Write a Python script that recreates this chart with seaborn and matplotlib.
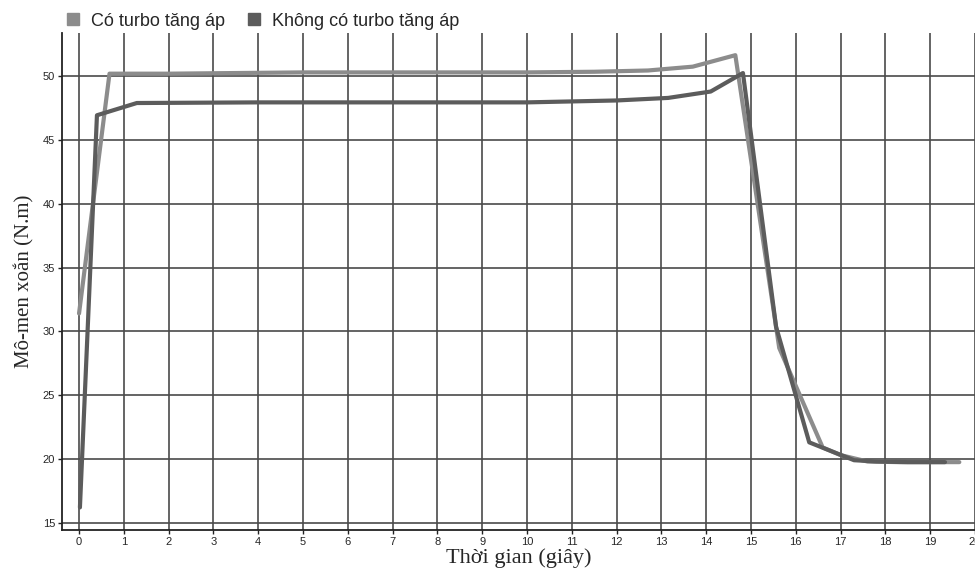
import numpy as np
import matplotlib.pyplot as plt
import seaborn as sns
import pandas as pd
from matplotlib.lines import Line2D

# data
t_turbo = [0.0, 0.68, 2.0, 5.0, 10.0, 11.5, 12.7, 13.7, 14.65, 15.63, 16.6, 17.0, 17.6, 18.3, 19.0, 19.65]
m_turbo = [31.4, 50.2, 50.2, 50.3, 50.3, 50.35, 50.45, 50.75, 51.65, 28.7, 20.9, 20.3, 19.8, 19.75, 19.75, 19.75]

t_no = [0.02, 0.4, 1.29, 4.0, 10.0, 12.0, 13.15, 14.1, 14.82, 15.56, 16.3, 16.8, 17.3, 17.8, 18.5, 19.33]
m_no = [16.2, 46.94, 47.9, 47.95, 47.95, 48.1, 48.3, 48.8, 50.25, 30.35, 21.3, 20.6, 19.9, 19.8, 19.75, 19.75]

label_turbo = 'Có turbo tăng áp'
label_no = 'Không có turbo tăng áp'

df = pd.concat([
    pd.DataFrame({'t': t_turbo, 'm': m_turbo, 'loai': label_turbo}),
    pd.DataFrame({'t': t_no, 'm': m_no, 'loai': label_no}),
], ignore_index=True)

sns.set_style('white')
plt.rcParams['font.family'] = ['Liberation Sans', 'DejaVu Sans']

colors = {label_turbo: '#8c8c8c', label_no: '#5c5c5c'}

fig = plt.figure(figsize=(9.75, 5.71), dpi=100)
ax = fig.add_axes([0.0636, 0.0718, 0.9364, 0.870])

sns.lineplot(data=df, x='t', y='m', hue='loai', palette=colors, sort=False,
             estimator=None, linewidth=3, ax=ax, legend=False, zorder=3)

ax.set_xlim(-0.38, 19.85)
ax.set_ylim(14.43, 53.37)
ax.set_xticks(range(0, 21))
ax.set_yticks(range(15, 55, 5))
ax.grid(True, color='#4a4a4a', linewidth=1.2, zorder=0)
ax.set_axisbelow(True)
for s in ['top', 'right']:
    ax.spines[s].set_visible(False)
for s in ['left', 'bottom']:
    ax.spines[s].set_color('#222222')
    ax.spines[s].set_linewidth(1.3)
ax.tick_params(axis='both', labelsize=8, length=3, width=1, color='#222222',
               direction='out', left=True, bottom=True, pad=2)

ax.set_xlabel('Thời gian (giây)', family='Liberation Serif', fontsize=16, labelpad=1)
ax.set_ylabel('Mô-men xoắn (N.m)', family='Liberation Serif', fontsize=15, labelpad=6)

handles = [Line2D([], [], marker='s', linestyle='none', markersize=9,
                  markerfacecolor=colors[k], markeredgecolor=colors[k], label=k)
           for k in [label_turbo, label_no]]
fig.legend(handles=handles, loc='upper left', bbox_to_anchor=(0.045, 0.997), ncol=2,
           frameon=False, fontsize=13, handletextpad=0.0, columnspacing=0.6,
           borderaxespad=0.2)

fig.savefig('out.png', dpi=100)
